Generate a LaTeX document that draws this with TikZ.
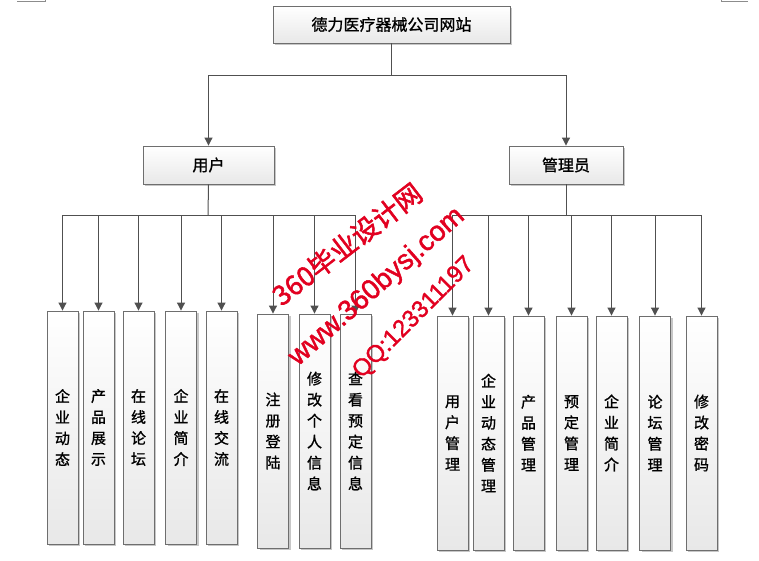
\documentclass[tikz,border=0pt]{standalone}
\usepackage{fontspec}
\setmainfont{Liberation Sans}
\newfontfamily\cjk{Noto Sans CJK SC}[FakeBold=1.2]
\newfontfamily\wmcjk{Noto Sans CJK SC}[FakeBold=2]
\newfontfamily\wmsans{Liberation Sans}[FakeBold=1.5]
\usetikzlibrary{arrows.meta,shadows}
\definecolor{linec}{HTML}{505050}
\definecolor{bordc}{HTML}{6E6E6E}
\definecolor{wmred}{RGB}{226,0,32}
\tikzset{
  box/.style={draw=bordc, line width=0.9pt, top color=white, bottom color=black!9,
    drop shadow={shadow xshift=2pt, shadow yshift=-2pt, opacity=0.22, fill=black},
    inner sep=0pt, font=\cjk\fontsize{16}{16}\selectfont},
  leaf/.style={box, minimum width=31pt, align=center, font=\cjk\fontsize{15}{21}\selectfont},
  leafA/.style={leaf, minimum height=233pt},
  leafB/.style={leaf, minimum height=234pt},
  conn/.style={draw=linec, line width=1pt},
  arr/.style={conn, -{Triangle[length=8pt,width=8pt]}},
  wm/.style={text=wmred, inner sep=0pt},
  corner/.style={draw=black!45, line width=0.6pt}
}
\begin{document}
\begin{tikzpicture}[x=1pt,y=-1pt]
\useasboundingbox (0,0) rectangle (759,560);
\fill[white] (0,0) rectangle (759,560);

% page corner marks
\draw[corner] (17,1) -- (45,1) -- (45,0);
\draw[corner] (748,1) -- (721,1) -- (721,0);

% top levels
\node[box, minimum width=237pt, minimum height=37pt] (top) at (391.5,24.5) {德力医疗器械公司网站};
\node[box, minimum width=131pt, minimum height=38pt] (user) at (208.5,165) {用户};
\node[box, minimum width=114pt, minimum height=38pt] (admin) at (566,165) {管理员};

\coordinate (b0) at (391.5,75);
\draw[conn] (top.south) -- (b0);
\draw[arr] (b0) -| (user.north);
\draw[arr] (b0) -| (admin.north);

% user leaves
\node[leafA] (u1) at (62.5,427.5) {企\\业\\动\\态};
\node[leafA] (u2) at (98.5,427.5) {产\\品\\展\\示};
\node[leafA] (u3) at (138.5,427.5) {在\\线\\论\\坛};
\node[leafA] (u4) at (181,427.5) {企\\业\\简\\介};
\node[leafA] (u5) at (221.5,427.5) {在\\线\\交\\流};
\node[leafB] (u6) at (273,431) {注\\册\\登\\陆};
\node[leafB] (u7) at (314.5,431) {修\\改\\个\\人\\信\\息};
\node[leafB] (u8) at (355.5,431) {查\\看\\预\\定\\信\\息};

% admin leaves
\node[leafB] (a1) at (452.5,433) {用\\户\\管\\理};
\node[leafB] (a2) at (488.5,433) {企\\业\\动\\态\\管\\理};
\node[leafB] (a3) at (528.5,433) {产\\品\\管\\理};
\node[leafB] (a4) at (571.5,433) {预\\定\\管\\理};
\node[leafB] (a5) at (611.5,433) {企\\业\\简\\介};
\node[leafB] (a6) at (655,433) {论\\坛\\管\\理};
\node[leafB] (a7) at (701.5,433) {修\\改\\密\\码};

% user bus
\coordinate (ub) at (208,215);
\draw[conn] (user.south) -- (ub);
\foreach \n in {u1,u2,u3,u4,u5,u6,u7,u8}
  \draw[arr] (ub) -| (\n.north);

% admin bus
\coordinate (ab) at (566,215);
\draw[conn] (admin.south) -- (ab);
\foreach \n in {a1,a2,a3,a4,a5,a6,a7}
  \draw[arr] (ab) -| (\n.north);

% watermark
\node[wm, rotate=37.5, font=\wmcjk\fontsize{27}{27}\selectfont] (wm1) at (347,244) {360毕业设计网};
\node[wm, rotate=41.5, font=\wmsans\fontsize{28}{28}\selectfont] (wm2) at (377,287) {www.360bysj.com};
\node[wm, rotate=45, font=\wmsans\fontsize{24}{24}\selectfont] (wm3) at (414,318) {QQ:123311197};
\end{tikzpicture}
\end{document}
